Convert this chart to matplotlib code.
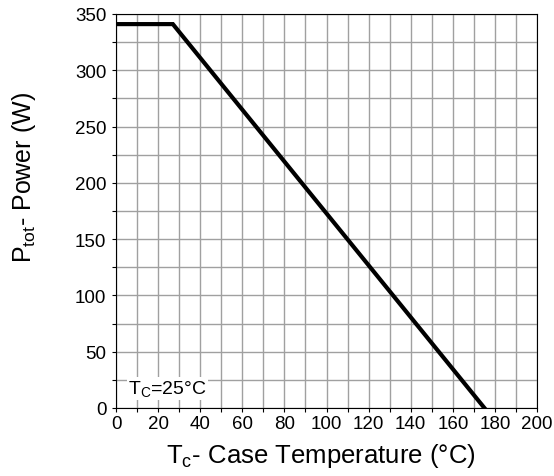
import numpy as np
import matplotlib
matplotlib.use('Agg')
import matplotlib.pyplot as plt
from matplotlib.ticker import MultipleLocator

plt.rcParams['font.family'] = ['Liberation Sans', 'DejaVu Sans']
plt.rcParams['mathtext.fontset'] = 'custom'
plt.rcParams['mathtext.rm'] = 'Liberation Sans'
plt.rcParams['mathtext.it'] = 'Liberation Sans'

# power derating curve: flat up to the knee, then linear down to Tj max
temp_c  = [0, 27, 175]
power_w = [341, 341, 0]

x_ticks = [0, 20, 40, 60, 80, 100, 120, 140, 160, 180, 200]
y_ticks = [0, 50, 100, 150, 200, 250, 300, 350]

fig = plt.figure(figsize=[5.54, 4.77], dpi=100)
ax = fig.add_axes([0.2094, 0.1426, 0.76, 0.826])

ax.plot(temp_c, power_w, color='black', linewidth=3.0, solid_joinstyle='miter', zorder=3)

ax.set_xlim(0, 200)
ax.set_ylim(0, 350)
ax.set_xticks(x_ticks)
ax.set_yticks(y_ticks)
ax.xaxis.set_minor_locator(MultipleLocator(10))
ax.yaxis.set_minor_locator(MultipleLocator(25))
ax.grid(True, which='both', color='#a0a0a0', linewidth=1.0)
ax.set_axisbelow(True)
ax.tick_params(which='both', direction='out', length=3, width=0.8, labelsize=13.5)
ax.tick_params(axis='x', pad=2)
ax.tick_params(axis='y', pad=4)

for s in ax.spines.values():
    s.set_color('black')
    s.set_linewidth(0.8)

# axis titles placed by hand
fig.text(0.579, 0.029, r'T$_\mathrm{c}$- Case Temperature (°C)', fontsize=18.5,
         ha='center', va='baseline')
fig.text(0.043, 0.627, r'P$_\mathrm{tot}$- Power (W)', fontsize=18,
         rotation=90, ha='center', va='center')

ax.text(5.7, 13, r'T$_\mathrm{C}$=25°C', fontsize=14, zorder=2,
        bbox=dict(facecolor='white', edgecolor='none', pad=1))

fig.savefig('out.png', dpi=100)
